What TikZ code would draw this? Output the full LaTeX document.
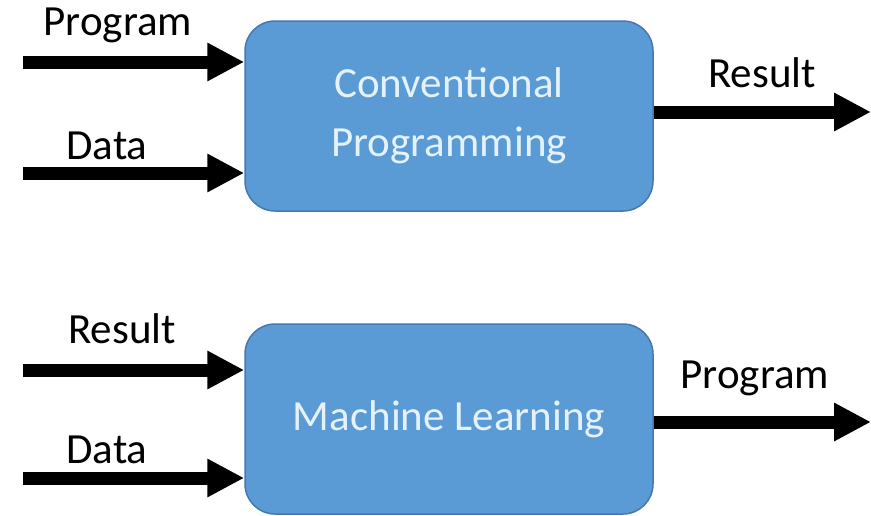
\documentclass[tikz,border=0pt]{standalone}
\usepackage{fontspec}
\setmainfont{Carlito}
\usepackage{tikz}
\usetikzlibrary{arrows.meta}
\definecolor{boxblue}{HTML}{5B9BD5}
\definecolor{boxedge}{HTML}{4677AE}
\definecolor{boxtext}{HTML}{E4F2FC}
\tikzset{stage/.style={draw=boxedge, line width=1.5pt, fill=boxblue, rounded corners=30pt, minimum width=408pt, minimum height=190pt, text=boxtext, align=center, font=\fontsize{43}{59}\selectfont}}
\tikzset{flow/.style={draw, line width=13pt, -{Triangle[length=37pt, width=36pt]}}}
\tikzset{tag/.style={font=\fontsize{43}{50}\selectfont, anchor=base, inner sep=0}}

\begin{document}
\begin{tikzpicture}[x=1pt, y=-1pt]
  \useasboundingbox (0, 0) rectangle (871, 515);

  % conventional programming
  \node[stage] at (449, 116) (CP) {Conventional\\Programming};
  \coordinate (progin) at (23, 62);
  \coordinate (datain) at (23, 173);
  \coordinate (resout) at (871, 112);
  \node[tag] at (118, 35) (progtag) {Program};
  \node[tag] at (107, 159) (datatag) {Data};
  \node[tag] at (762, 87) (restag) {Result};

    \draw (progin) edge[flow] (CP.west |- progin);
    \draw (datain) edge[flow] (CP.west |- datain);
    \draw (CP.east |- resout) edge[flow] (resout);

  % machine learning
  \node[stage] at (449, 419) (ML) {Machine Learning};
  \coordinate (resin) at (23, 370);
  \coordinate (mldatain) at (23, 478);
  \coordinate (progout) at (871, 422);
  \node[tag] at (122, 343) (mlrestag) {Result};
  \node[tag] at (107, 463) (mldatatag) {Data};
  \node[tag] at (755, 388) (mlprogtag) {Program};

    \draw (resin) edge[flow] (ML.west |- resin);
    \draw (mldatain) edge[flow] (ML.west |- mldatain);
    \draw (ML.east |- progout) edge[flow] (progout);
\end{tikzpicture}
\end{document}
